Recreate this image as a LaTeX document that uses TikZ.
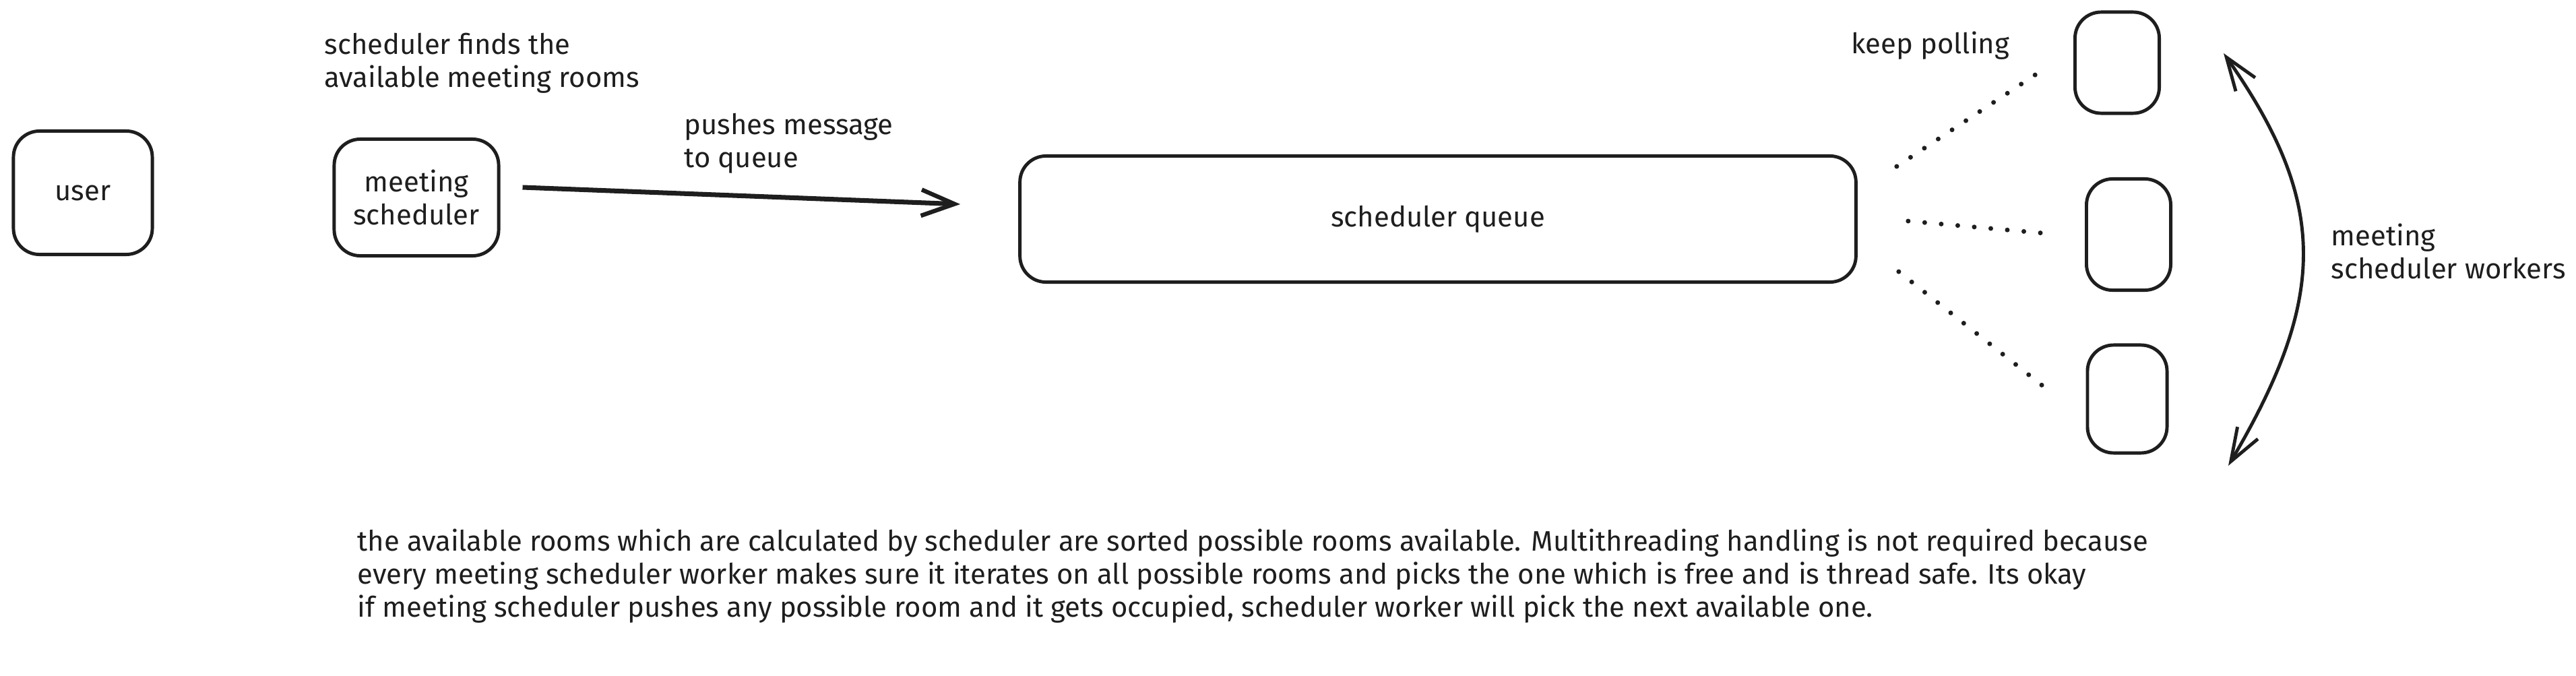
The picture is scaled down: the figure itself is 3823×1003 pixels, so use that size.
\documentclass[tikz,border=0pt]{standalone}
\usepackage{fontspec}
\setmainfont{Fira Sans}
\usetikzlibrary{arrows.meta}
\definecolor{ink}{RGB}{30,30,30}
\tikzset{
  box/.style={draw=ink, line width=1.4pt, rounded corners=11pt, inner sep=0pt, align=center, text=ink, font=\fontsize{11.9}{13.9}\selectfont},
  lbl/.style={anchor=west, align=left, inner sep=0pt, text=ink, font=\fontsize{11.9}{13.9}\selectfont},
  arrowline/.style={draw=ink, line width=2pt, -{Straight Barb[length=14pt,width=11pt,line width=1.8pt]}},
  dualarrow/.style={draw=ink, line width=1.4pt, {Straight Barb[length=14pt,width=10pt,line width=1.4pt]}-{Straight Barb[length=14pt,width=10pt,line width=1.4pt]}},
  dotline/.style={draw=ink, line width=2pt, line cap=round, dash pattern=on 0pt off 7pt}
}
\begin{document}
\begin{tikzpicture}[x=0.01cm, y=-0.01cm]
\useasboundingbox (0,0) rectangle (3823,1003);
\fill[white] (0,0) rectangle (3823,1003);
% boxes
\node[box, minimum width=2.06cm, minimum height=1.83cm] (user) at (123,286) {user};
\node[box, minimum width=2.44cm, minimum height=1.73cm] (ms) at (618,293) {meeting\\scheduler};
\node[box, minimum width=12.4cm, minimum height=1.87cm] (q) at (2134,325) {scheduler queue};
\node[box, minimum width=1.25cm, minimum height=1.50cm] (w1) at (3142,93) {};
\node[box, minimum width=1.25cm, minimum height=1.65cm] (w2) at (3159,348) {};
\node[box, minimum width=1.18cm, minimum height=1.60cm] (w3) at (3157,592) {};
% labels
\node[lbl] (l1) at (481,94) {scheduler finds the\\available meeting rooms};
\node[lbl] (l2) at (1015,213) {pushes message\\to queue};
\node[lbl] (l3) at (2747,68) {keep polling};
\node[lbl] (l4) at (3459,373) {meeting\\scheduler workers};
\node[lbl] (para) at (530,855) {the available rooms which are calculated by scheduler are sorted possible rooms available. Multithreading handling is not required because\\every meeting scheduler worker makes sure it iterates on all possible rooms and picks the one which is free and is thread safe. Its okay\\if meeting scheduler pushes any possible room and it gets occupied, scheduler worker will pick the next available one.};
% main arrow
\draw[arrowline] ([xshift=0.33cm,yshift=0.15cm]ms.east) -- ([xshift=-0.86cm,yshift=0.22cm]q.west);
% polling dotted lines
\draw[dotline] ([xshift=0.58cm,yshift=0.78cm]q.east) -- ([xshift=-0.52cm,yshift=-0.15cm]w1.west);
\draw[dotline] ([xshift=0.75cm,yshift=-0.03cm]q.east) -- ([xshift=-0.5cm,yshift=0.01cm]w2.west);
\draw[dotline] ([xshift=0.61cm,yshift=-0.78cm]q.east) -- ([xshift=-0.52cm,yshift=0.10cm]w3.west);
% curved double arrow
\coordinate (ct) at (3300,79);
\coordinate (cb) at (3307,691);
\draw[dualarrow] (ct) .. controls (3455,300) and (3455,440) .. (cb);
\end{tikzpicture}
\end{document}
